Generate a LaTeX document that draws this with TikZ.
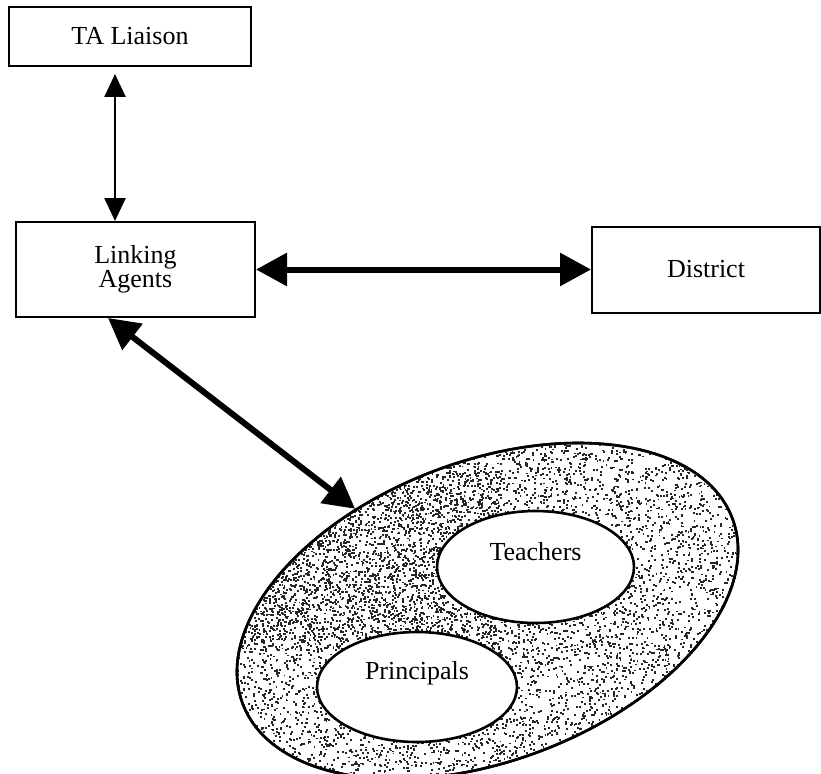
\documentclass[tikz,border=0pt]{standalone}
\usepackage{fontspec}
\setmainfont{Liberation Serif}
\usetikzlibrary{arrows.meta,shapes.geometric}

\tikzset{
  box/.style={draw, line width=2pt, rectangle, inner sep=0pt, align=center},
  oval/.style={draw, ellipse, line width=2.6pt, inner sep=0pt},
  thinlink/.style={line width=2.6pt, {Triangle[length=23pt,width=21pt]}-{Triangle[length=23pt,width=21pt]}},
  thicklink/.style={line width=6pt, {Triangle[length=31pt,width=32pt]}-{Triangle[length=31pt,width=32pt]}},
  speck/.style={fill=black!85},
}

\begin{document}
\fontsize{26}{24}\selectfont
\begin{tikzpicture}[x=1pt, y=-1pt]
  \useasboundingbox (0,0) rectangle (821,773);

  % boxes
  \node[box, minimum width=242pt, minimum height=59pt] (ta) at (130,36.5) {TA Liaison};
  \node[box, minimum width=239pt, minimum height=95pt] (la) at (135.5,269.5) {Linking\\Agents};
  \node[box, minimum width=228pt, minimum height=86pt] (di) at (706,269.5) {District};

  % outer group: stippled tilted ellipse
  \node[oval, fill=white, rotate=20.75, minimum width=523.6pt, minimum height=299.6pt] (community) at (487.5,611) {};
  \begin{scope}
    \clip[rotate around={20.75:(487.5,611)}] (487.5,611) ellipse [x radius=261.8, y radius=149.8];
    \pgfmathsetseed{2718}
    \foreach \k in {1,...,8500} {
      \fill[speck] ({225+rnd*530},{435+rnd*345}) rectangle ++(1.9,1.9);
    }
    % denser grain towards the upper left of the ring
    \foreach \k in {1,...,2200} {
      \fill[speck] ({240+rnd*260},{470+rnd*180}) rectangle ++(1.9,1.9);
    }
  \end{scope}
  \draw[line width=2.6pt, rotate around={20.75:(487.5,611)}] (487.5,611) ellipse [x radius=261.8, y radius=149.8];

  % inner groups
  \node[oval, fill=white, minimum width=197pt, minimum height=112pt,
        label={[yshift=15pt]center:Teachers}] (teachers) at (535.5,567) {};
  \node[oval, fill=white, minimum width=200pt, minimum height=110pt,
        label={[yshift=14pt]center:Principals}] (principals) at (417,687) {};

  % connectors
  \draw[thinlink, shorten <=7pt] ([xshift=-15pt]ta.south) -- ([xshift=-15pt]ta.south |- la.north);
  \draw[thicklink] (la.east) -- (di.west);
  \draw[thicklink] ([xshift=-27.5pt]la.south) -- (community);
\end{tikzpicture}
\end{document}
